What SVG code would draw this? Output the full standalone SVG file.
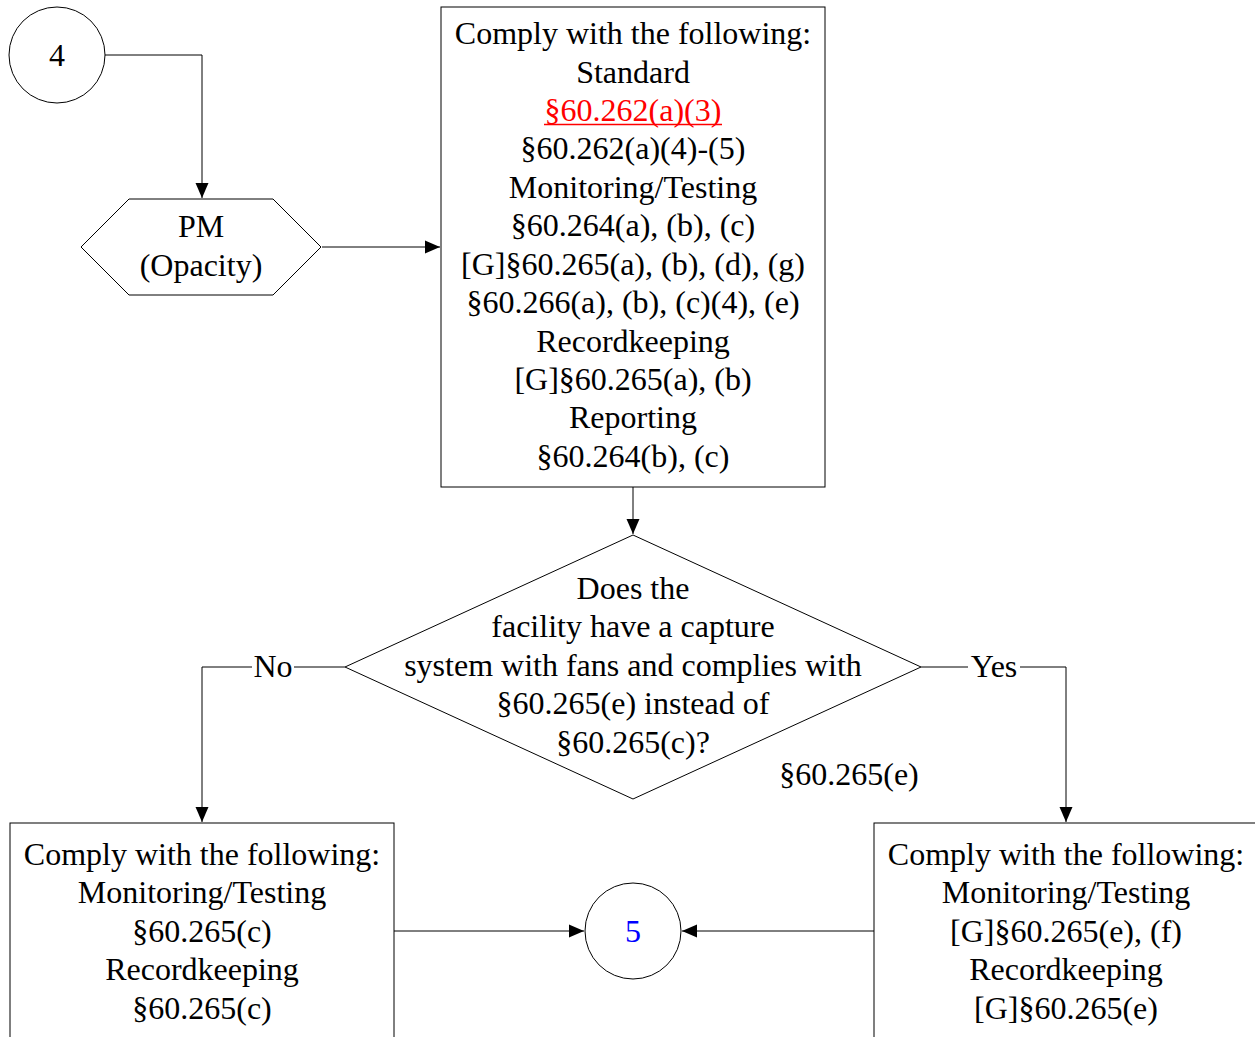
<svg xmlns="http://www.w3.org/2000/svg" width="1255" height="1037" viewBox="0 0 1255 1037">
<style>
text{font-family:"Liberation Serif","Times New Roman",serif;font-size:32px;fill:#000;text-anchor:middle}
.shape{fill:#fff;stroke:#000;stroke-width:1}
.conn{fill:none;stroke:#000;stroke-width:1}
.red{fill:#f00}
.blue{fill:#00f}
</style>
<defs>
<marker id="arr" markerUnits="userSpaceOnUse" markerWidth="16" markerHeight="14" refX="15" refY="7" orient="auto">
<path d="M0,0.5 L15,7 L0,13.5 Z" fill="#000"/>
</marker>
</defs>
<rect width="1255" height="1037" fill="#fff"/>
<g id="connectors">
<path class="conn" d="M105,55 H202 V198" marker-end="url(#arr)"/>
<path class="conn" d="M322,247 H440" marker-end="url(#arr)"/>
<path class="conn" d="M633,487 V534" marker-end="url(#arr)"/>
<path class="conn" d="M345,667 H202 V822" marker-end="url(#arr)"/>
<path class="conn" d="M921,667 H1066 V822" marker-end="url(#arr)"/>
<path class="conn" d="M394,931 H584" marker-end="url(#arr)"/>
<path class="conn" d="M874,931 H682" marker-end="url(#arr)"/>
<rect x="252" y="650" width="42" height="34" fill="#fff"/>
<text x="273" y="677">No</text>
<rect x="968" y="650" width="52" height="34" fill="#fff"/>
<text x="994" y="677">Yes</text>
</g>
<g id="node-4">
<circle class="shape" cx="57" cy="55" r="48"/>
<text x="57" y="66">4</text>
</g>
<g id="node-pm">
<polygon class="shape" points="129,199 273,199 321,247 273,295 129,295 81,247"/>
<text x="201" y="237">PM</text>
<text x="201" y="276">(Opacity)</text>
</g>
<g id="node-comply-main">
<rect class="shape" x="441" y="7" width="384" height="480"/>
<text x="633" y="44">Comply with the following:</text>
<text x="633" y="83">Standard</text>
<text x="633" y="121" class="red">§60.262(a)(3)</text>
<line x1="544" y1="124.5" x2="722" y2="124.5" stroke="#f00" stroke-width="1.5"/>
<text x="633" y="159">§60.262(a)(4)-(5)</text>
<text x="633" y="198">Monitoring/Testing</text>
<text x="633" y="236">§60.264(a), (b), (c)</text>
<text x="633" y="275">[G]§60.265(a), (b), (d), (g)</text>
<text x="633" y="313">§60.266(a), (b), (c)(4), (e)</text>
<text x="633" y="352">Recordkeeping</text>
<text x="633" y="390">[G]§60.265(a), (b)</text>
<text x="633" y="428">Reporting</text>
<text x="633" y="467">§60.264(b), (c)</text>
</g>
<g id="node-decision">
<polygon class="shape" points="633,535 921,667 633,799 345,667"/>
<text x="633" y="599">Does the</text>
<text x="633" y="637">facility have a capture</text>
<text x="633" y="676">system with fans and complies with</text>
<text x="633" y="714">§60.265(e) instead of</text>
<text x="633" y="753">§60.265(c)?</text>
</g>
<g id="label-60265e">
<text x="849" y="785">§60.265(e)</text>
</g>
<g id="node-comply-no">
<rect class="shape" x="10" y="823" width="384" height="230"/>
<text x="202" y="865">Comply with the following:</text>
<text x="202" y="903">Monitoring/Testing</text>
<text x="202" y="942">§60.265(c)</text>
<text x="202" y="980">Recordkeeping</text>
<text x="202" y="1019">§60.265(c)</text>
</g>
<g id="node-5">
<circle class="shape" cx="633" cy="931" r="48"/>
<text x="633" y="942" class="blue">5</text>
</g>
<g id="node-comply-yes">
<rect class="shape" x="874" y="823" width="400" height="230"/>
<text x="1066" y="865">Comply with the following:</text>
<text x="1066" y="903">Monitoring/Testing</text>
<text x="1066" y="942">[G]§60.265(e), (f)</text>
<text x="1066" y="980">Recordkeeping</text>
<text x="1066" y="1019">[G]§60.265(e)</text>
</g>
</svg>
